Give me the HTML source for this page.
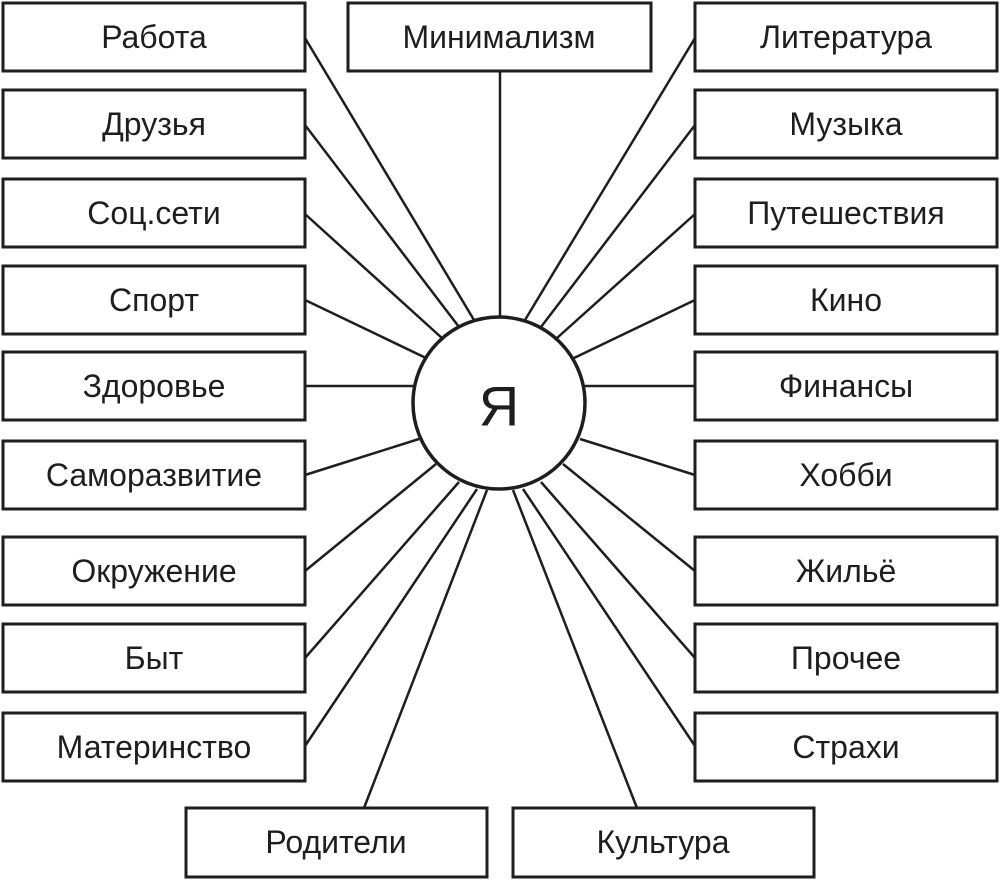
<!DOCTYPE html>
<html><head><meta charset="utf-8"><style>
html,body{margin:0;padding:0;background:#fff}
svg{display:block}
text{font-family:"Liberation Sans","DejaVu Sans",sans-serif;font-size:32px;fill:#1e1e1e;text-anchor:middle;dominant-baseline:central}
</style></head><body>
<svg width="1000" height="880" viewBox="0 0 1000 880">
<g stroke="#1e1e1e" stroke-width="2.5" fill="none">
<line x1="500" y1="72" x2="500" y2="317"/>
<line x1="305" y1="38" x2="474" y2="320"/>
<line x1="305" y1="125" x2="459" y2="327"/>
<line x1="305" y1="214" x2="443" y2="339"/>
<line x1="305" y1="300" x2="426" y2="358"/>
<line x1="305" y1="386" x2="415" y2="386"/>
<line x1="305" y1="475" x2="419" y2="439"/>
<line x1="305" y1="571" x2="436" y2="464"/>
<line x1="305" y1="658" x2="459" y2="482"/>
<line x1="305" y1="746" x2="477" y2="489"/>
<line x1="364" y1="808" x2="487" y2="490"/>
<line x1="695" y1="38" x2="525" y2="320"/>
<line x1="695" y1="125" x2="541" y2="327"/>
<line x1="695" y1="214" x2="557" y2="338"/>
<line x1="695" y1="300" x2="574" y2="358"/>
<line x1="695" y1="386" x2="585" y2="386"/>
<line x1="695" y1="475" x2="580" y2="439"/>
<line x1="695" y1="571" x2="563" y2="464"/>
<line x1="695" y1="658" x2="541" y2="482"/>
<line x1="695" y1="746" x2="523" y2="489"/>
<line x1="637" y1="808" x2="513" y2="490"/>
</g>
<circle cx="499" cy="403" r="86" fill="#fff" stroke="#1e1e1e" stroke-width="3.5"/>
<text x="499" y="406" style="font-size:56px">Я</text>
<g stroke="#1e1e1e" stroke-width="3" fill="#fff">
<rect x="348" y="3" width="303" height="68"/>
<rect x="3" y="3" width="302" height="68"/>
<rect x="3" y="90" width="302" height="68"/>
<rect x="3" y="179" width="302" height="68"/>
<rect x="3" y="266" width="302" height="68"/>
<rect x="3" y="352" width="302" height="68"/>
<rect x="3" y="441" width="302" height="68"/>
<rect x="3" y="537" width="302" height="68"/>
<rect x="3" y="624" width="302" height="68"/>
<rect x="3" y="713" width="302" height="68"/>
<rect x="695" y="3" width="302" height="68"/>
<rect x="695" y="90" width="302" height="68"/>
<rect x="695" y="179" width="302" height="68"/>
<rect x="695" y="266" width="302" height="68"/>
<rect x="695" y="352" width="302" height="68"/>
<rect x="695" y="441" width="302" height="68"/>
<rect x="695" y="537" width="302" height="68"/>
<rect x="695" y="624" width="302" height="68"/>
<rect x="695" y="713" width="302" height="68"/>
<rect x="186" y="808" width="301" height="69"/>
<rect x="513" y="808" width="301" height="69"/>
</g>
<text x="499" y="37">Минимализм</text>
<text x="154" y="37">Работа</text>
<text x="154" y="124">Друзья</text>
<text x="154" y="213">Соц.сети</text>
<text x="154" y="300">Спорт</text>
<text x="154" y="386">Здоровье</text>
<text x="154" y="475">Саморазвитие</text>
<text x="154" y="571">Окружение</text>
<text x="154" y="658">Быт</text>
<text x="154" y="747">Материнство</text>
<text x="846" y="37">Литература</text>
<text x="846" y="124">Музыка</text>
<text x="846" y="213">Путешествия</text>
<text x="846" y="300">Кино</text>
<text x="846" y="386">Финансы</text>
<text x="846" y="475">Хобби</text>
<text x="846" y="571">Жильё</text>
<text x="846" y="658">Прочее</text>
<text x="846" y="747">Страхи</text>
<text x="336" y="842">Родители</text>
<text x="663" y="842">Культура</text>
</svg>
</body></html>
